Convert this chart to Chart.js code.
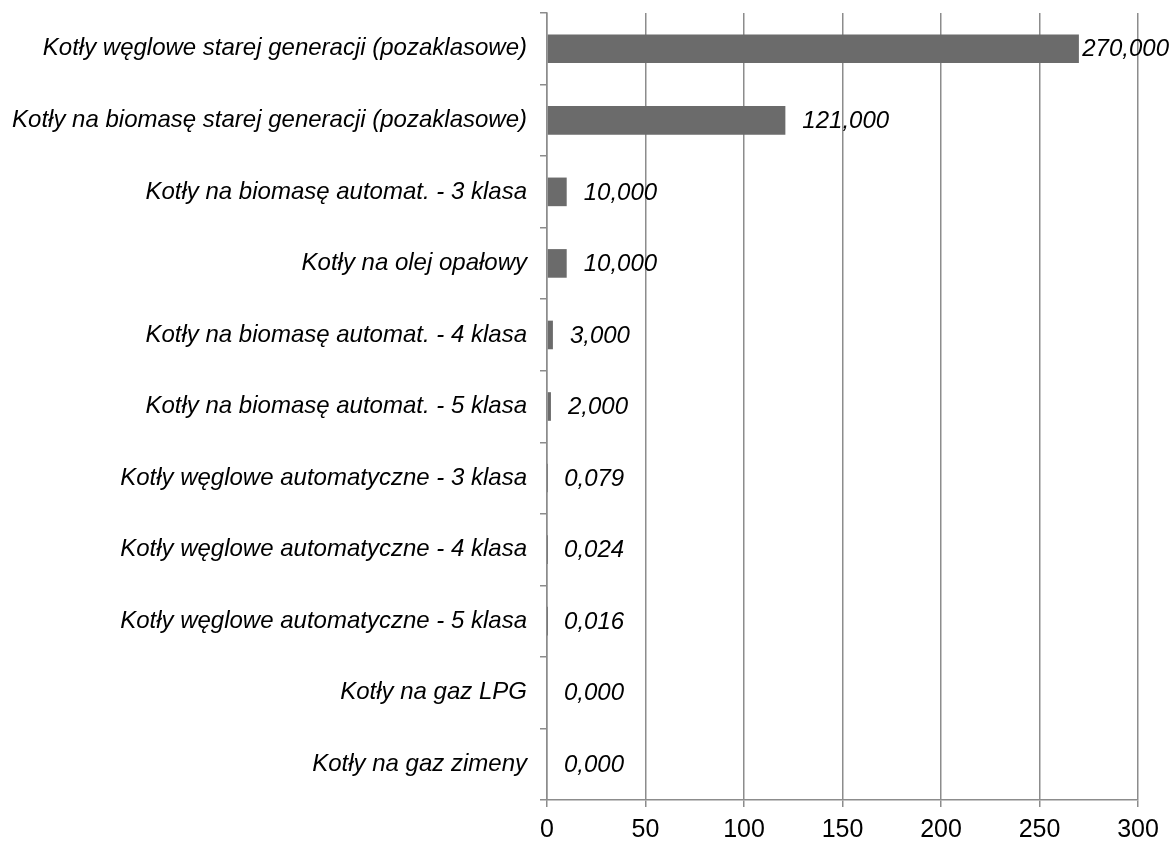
<!DOCTYPE html>
<html>
<head>
<meta charset="utf-8">
<script src="https://cdn.jsdelivr.net/npm/chart.js@4/dist/chart.umd.min.js"></script>
<style>
  body { margin: 0; background: #fff; }
  #mainChart { display: block; }
</style>
</head>
<body>
<canvas id="mainChart" width="1173" height="845"></canvas>
<script>
// categories, top to bottom
var categories = [
  "Kotły węglowe starej generacji (pozaklasowe)",
  "Kotły na biomasę starej generacji (pozaklasowe)",
  "Kotły na biomasę automat. - 3 klasa",
  "Kotły na olej opałowy",
  "Kotły na biomasę automat. - 4 klasa",
  "Kotły na biomasę automat. - 5 klasa",
  "Kotły węglowe automatyczne - 3 klasa",
  "Kotły węglowe automatyczne - 4 klasa",
  "Kotły węglowe automatyczne - 5 klasa",
  "Kotły na gaz LPG",
  "Kotły na gaz zimeny"
];
var values = [270, 121, 10, 10, 3, 2, 0.079, 0.024, 0.016, 0, 0];
var xTicks = [0, 50, 100, 150, 200, 250, 300];

var gridGray = "#8c8c8c";
var labelFont = "italic 24px 'Liberation Sans', Arial, sans-serif";

function fmt(v) {
  return v.toFixed(3).replace(".", ",");
}

// value labels to the right of each bar
var valueLabels = {
  id: "valueLabels",
  afterDatasetsDraw: function(chart) {
    var ctx = chart.ctx;
    var meta = chart.getDatasetMeta(0);
    ctx.save();
    ctx.font = labelFont;
    ctx.fillStyle = "#000";
    ctx.textBaseline = "middle";
    ctx.textAlign = "left";
    meta.data.forEach(function(bar, i) {
      var txt = fmt(values[i]);
      var w = ctx.measureText(txt).width;
      var x = Math.min(bar.x + 17, chart.width - 4 - w);
      ctx.fillText(txt, x, bar.y + 1);
    });
    ctx.restore();
  }
};

var data = {
  labels: categories,
  datasets: [{
    data: values,
    backgroundColor: "#6b6b6b",
    borderWidth: 0,
    categoryPercentage: 0.4,
    barPercentage: 1.0
  }]
};

var options = {
  indexAxis: "y",
  responsive: false,
  animation: false,
  layout: { padding: { top: 13, right: 35, bottom: 5, left: 0 } },
  plugins: {
    legend: { display: false },
    tooltip: { enabled: false }
  },
  scales: {
    x: {
      min: 0,
      max: 300,
      afterBuildTicks: function(scale) {
        scale.ticks = xTicks.map(function(v) { return { value: v }; });
      },
      afterFit: function(scale) { scale.height = 40; },
      grid: {
        color: gridGray,
        lineWidth: 1.5,
        drawTicks: true,
        tickLength: 7,
        tickColor: gridGray
      },
      border: { color: gridGray, width: 1.5 },
      ticks: {
        color: "#000",
        padding: 8,
        font: { family: "'Liberation Sans', Arial, sans-serif", size: 25 }
      }
    },
    y: {
      afterFit: function(scale) {
        scale.width = 547;
        scale.paddingTop = 0;
        scale.paddingBottom = 0;
      },
      grid: {
        offset: true,
        drawOnChartArea: false,
        drawTicks: true,
        tickLength: 7,
        tickColor: gridGray,
        lineWidth: 1.5
      },
      border: { color: gridGray, width: 1.5 },
      ticks: {
        color: "#000",
        padding: 13,
        autoSkip: false,
        font: { family: "'Liberation Sans', Arial, sans-serif", size: 24, style: "italic" }
      }
    }
  }
};

var config = {
  type: "bar",
  data: data,
  options: options,
  plugins: [valueLabels]
};

var ctx = document.getElementById("mainChart");
new Chart(ctx, config);
</script>
</body>
</html>
